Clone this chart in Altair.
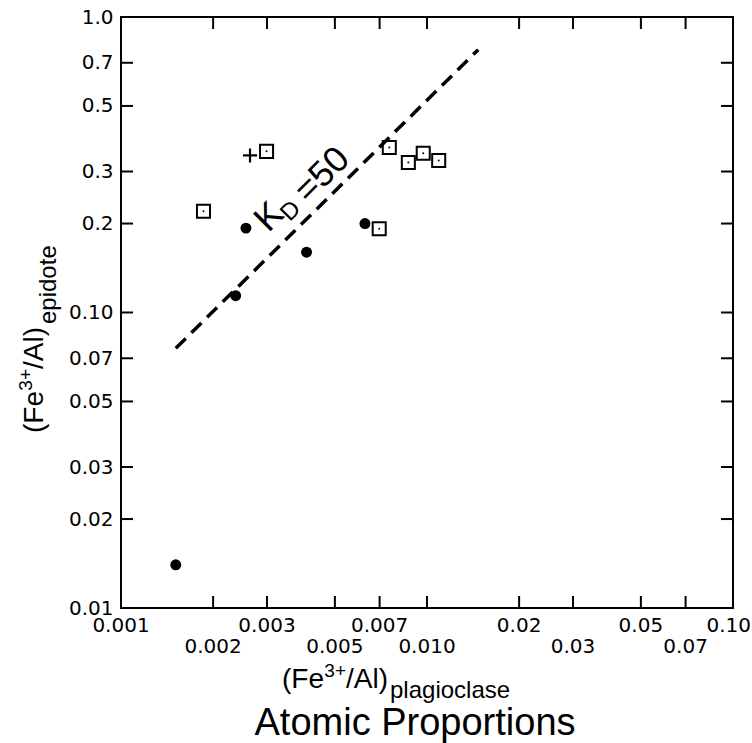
import altair as alt
import pandas as pd

# ---- data ----
circle_x = [0.00151, 0.00237, 0.00256, 0.00404, 0.00627]
circle_y = [0.0140, 0.114, 0.193, 0.160, 0.200]
square_x = [0.00186, 0.00299, 0.00698, 0.00753, 0.00869, 0.00972, 0.01092]
square_y = [0.220, 0.351, 0.192, 0.362, 0.322, 0.346, 0.327]
plus_x = [0.00264]
plus_y = [0.340]
line_x = [0.00151, 0.0147]
line_y = [0.0757, 0.775]

x_ticks = [0.002, 0.003, 0.005, 0.007, 0.01, 0.02, 0.03, 0.05, 0.07]
y_ticks = [0.02, 0.03, 0.05, 0.07, 0.1, 0.2, 0.3, 0.5, 0.7]
y_label_values = [0.01, 0.02, 0.03, 0.05, 0.07, 0.1, 0.2, 0.3, 0.5, 0.7, 1.0]
x_labels_upper = [0.001, 0.003, 0.007, 0.02, 0.05]
x_labels_upper_txt = ["0.001", "0.003", "0.007", "0.02", "0.05"]
x_label_last = [0.1]
x_label_last_txt = ["0.10"]
x_labels_lower = [0.002, 0.005, 0.01, 0.03, 0.07]
x_labels_lower_txt = ["0.002", "0.005", "0.010", "0.03", "0.07"]

# annotation "K_D = 50" placement (data coords)
kd_x = [0.00305, 0.00359, 0.00454]
kd_y = [0.2105, 0.2204, 0.292]
kd_txt = ["K", "D", "=50"]
kd_size = [36, 24, 36]

W, H = 612, 591
L, T = 121, 17

xs = alt.Scale(type="log", domain=[0.001, 0.1], nice=False)
ys = alt.Scale(type="log", domain=[0.01, 1.0], nice=False)

yaxis = alt.Axis(values=y_label_values,
                 labelExpr="datum.value >= 0.15 ? format(datum.value, '.1f') : format(datum.value, '.2f')",
                 ticks=False, tickSize=0, domain=False, grid=False,
                 labelFont="DejaVu Sans", labelFontSize=20, labelColor="black",
                 labelPadding=8, title=None, labelOverlap=False, labelFlush=False)


def X(f="x"):
    return alt.X(f"{f}:Q", scale=xs, axis=None)


def Y(f="y"):
    return alt.Y(f"{f}:Q", scale=ys, axis=yaxis)


circles = pd.DataFrame({"x": circle_x, "y": circle_y})
squares = pd.DataFrame({"x": square_x, "y": square_y})
pluses = pd.DataFrame({"x": plus_x, "y": plus_y})
kdline = pd.DataFrame({"x": line_x, "y": line_y})

layers = []

# dashed K_D = 50 line
layers.append(alt.Chart(kdline).mark_line(color="black", strokeWidth=3.5, strokeDash=[14, 8])
              .encode(x=X(), y=Y()))

# data points
layers.append(alt.Chart(circles).mark_point(shape="circle", filled=True, color="black", size=120, opacity=1)
              .encode(x=X(), y=Y()))
layers.append(alt.Chart(squares).mark_point(shape="square", filled=False, color="black", size=170,
                                            strokeWidth=2, opacity=1)
              .encode(x=X(), y=Y()))
layers.append(alt.Chart(squares).mark_point(shape="circle", filled=True, color="black", size=4, opacity=1)
              .encode(x=X(), y=Y()))
layers.append(alt.Chart(pluses).mark_point(shape="M-1,0L1,0M0,-1L0,1", filled=False, color="black",
                                           size=200, strokeWidth=2.2, opacity=1)
              .encode(x=X(), y=Y()))

# K_D = 50 label
kd = pd.DataFrame({"x": kd_x, "y": kd_y, "t": kd_txt})
for i in range(3):
    layers.append(alt.Chart(kd.iloc[[i]]).mark_text(font="Liberation Sans", fontSize=kd_size[i],
                                                    angle=315, align="center", baseline="middle",
                                                    color="black")
                  .encode(x=X(), y=Y(), text="t:N"))

# inward ticks on all four sides
xt = pd.DataFrame({"x": x_ticks})
yt = pd.DataFrame({"y": y_ticks})
layers.append(alt.Chart(xt).mark_rule(color="black", strokeWidth=2)
              .encode(x=X(), y=alt.value(H), y2=alt.value(H - 12)))
layers.append(alt.Chart(xt).mark_rule(color="black", strokeWidth=2)
              .encode(x=X(), y=alt.value(0), y2=alt.value(12)))
layers.append(alt.Chart(yt).mark_rule(color="black", strokeWidth=2)
              .encode(y=Y(), x=alt.value(0), x2=alt.value(12)))
layers.append(alt.Chart(yt).mark_rule(color="black", strokeWidth=2)
              .encode(y=Y(), x=alt.value(W), x2=alt.value(W - 12)))

# x tick labels in two staggered rows
xu = pd.DataFrame({"x": x_labels_upper, "t": x_labels_upper_txt})
xlast = pd.DataFrame({"x": x_label_last, "t": x_label_last_txt})
xl = pd.DataFrame({"x": x_labels_lower, "t": x_labels_lower_txt})
layers.append(alt.Chart(xu).mark_text(font="DejaVu Sans", fontSize=20, align="center",
                                      baseline="alphabetic", color="black")
              .encode(x=X(), y=alt.value(632 - T), text="t:N"))
layers.append(alt.Chart(xlast).mark_text(font="DejaVu Sans", fontSize=20, align="right", dx=18,
                                         baseline="alphabetic", color="black")
              .encode(x=X(), y=alt.value(632 - T), text="t:N"))
layers.append(alt.Chart(xl).mark_text(font="DejaVu Sans", fontSize=20, align="center",
                                      baseline="alphabetic", color="black")
              .encode(x=X(), y=alt.value(653 - T), text="t:N"))


# axis titles
def label(txt, px, py, size, align, angle=0, font="Liberation Sans"):
    d = pd.DataFrame({"t": [txt]})
    kw = dict(font=font, fontSize=size, align=align, baseline="alphabetic", color="black")
    if angle:
        kw["angle"] = angle
    return alt.Chart(d).mark_text(**kw).encode(x=alt.value(px - L), y=alt.value(py - T), text="t:N")


# x-axis title: (Fe3+/Al)plagioclase
layers.append(label("/Al)", 388, 688, 28, "right"))
layers.append(label("3+", 346, 677, 19, "right"))
layers.append(label("(Fe", 324, 688, 28, "right"))
layers.append(label("plagioclase", 390, 698, 24, "left"))
layers.append(label("Atomic Proportions", 415, 735, 38, "center"))

# y-axis title: (Fe3+/Al)epidote, reading bottom to top
layers.append(label("/Al)", 43, 327, 28, "right", angle=270))
layers.append(label("3+", 32, 369, 19, "right", angle=270))
layers.append(label("(Fe", 43, 391, 28, "right", angle=270))
layers.append(label("epidote", 56, 324, 24, "left", angle=270))

chart = (alt.layer(*layers)
         .properties(width=W, height=H,
                     autosize=alt.AutoSizeParams(type="none"),
                     padding={"left": L, "top": T, "right": 752 - L - W, "bottom": 743 - T - H},
                     background="white")
         .configure_view(stroke="black", strokeWidth=2))

chart.save("out.html", embed_options={"renderer": "svg", "actions": False})
